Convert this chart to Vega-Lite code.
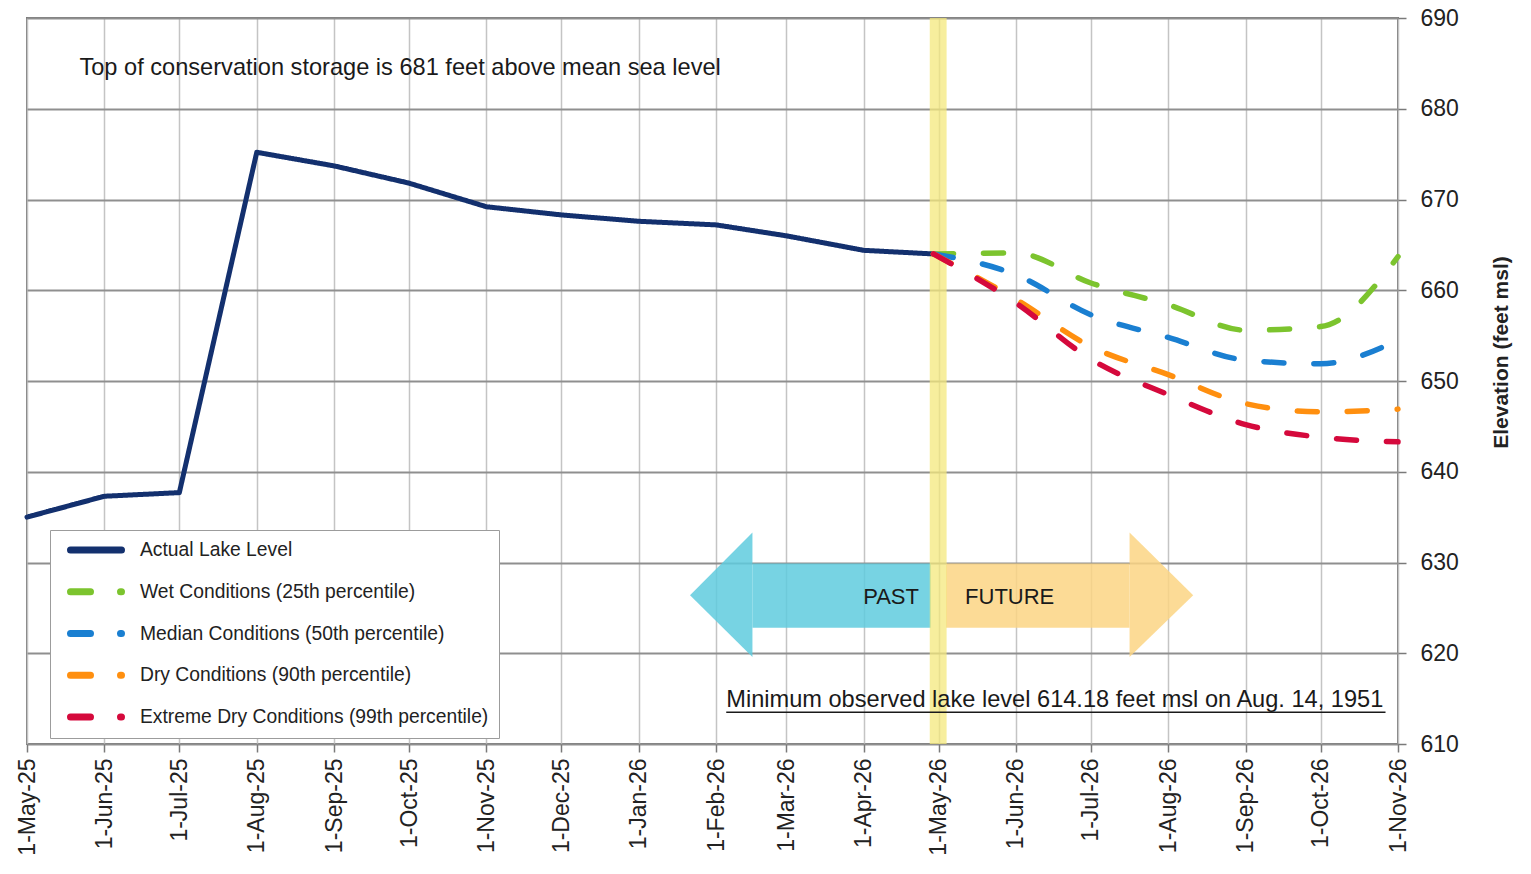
{
  "$schema": "https://vega.github.io/schema/vega-lite/v6.json",
  "width": 1371,
  "height": 726,
  "autosize": {"type": "none"},
  "padding": {"left": 27, "top": 18, "right": 133, "bottom": 130},
  "background": "white",
  "config": {
    "font": "Liberation Sans",
    "view": {"stroke": "#7a7a7a", "strokeWidth": 2},
    "axis": {"labelFont": "Liberation Sans", "titleFont": "Liberation Sans"}
  },
  "datasets": {
    "actual": [
      {"date": "2025-05-01", "level": 635.0, "series": "Actual Lake Level"},
      {"date": "2025-06-01", "level": 637.3, "series": "Actual Lake Level"},
      {"date": "2025-07-01", "level": 637.7, "series": "Actual Lake Level"},
      {"date": "2025-08-01", "level": 675.2, "series": "Actual Lake Level"},
      {"date": "2025-09-01", "level": 673.7, "series": "Actual Lake Level"},
      {"date": "2025-10-01", "level": 671.8, "series": "Actual Lake Level"},
      {"date": "2025-11-01", "level": 669.2, "series": "Actual Lake Level"},
      {"date": "2025-12-01", "level": 668.3, "series": "Actual Lake Level"},
      {"date": "2026-01-01", "level": 667.6, "series": "Actual Lake Level"},
      {"date": "2026-02-01", "level": 667.2, "series": "Actual Lake Level"},
      {"date": "2026-03-01", "level": 666.0, "series": "Actual Lake Level"},
      {"date": "2026-04-01", "level": 664.4, "series": "Actual Lake Level"},
      {"date": "2026-04-29", "level": 664.0, "series": "Actual Lake Level"}
    ],
    "forecast": [
      {"date": "2026-04-29", "level": 664.0, "series": "Wet Conditions (25th percentile)"},
      {"date": "2026-06-01", "level": 664.1, "series": "Wet Conditions (25th percentile)"},
      {"date": "2026-07-01", "level": 660.8, "series": "Wet Conditions (25th percentile)"},
      {"date": "2026-08-01", "level": 658.4, "series": "Wet Conditions (25th percentile)"},
      {"date": "2026-09-01", "level": 655.6, "series": "Wet Conditions (25th percentile)"},
      {"date": "2026-10-01", "level": 656.0, "series": "Wet Conditions (25th percentile)"},
      {"date": "2026-11-01", "level": 663.7, "series": "Wet Conditions (25th percentile)"},
      {"date": "2026-04-29", "level": 664.0, "series": "Median Conditions (50th percentile)"},
      {"date": "2026-06-01", "level": 661.7, "series": "Median Conditions (50th percentile)"},
      {"date": "2026-07-01", "level": 657.3, "series": "Median Conditions (50th percentile)"},
      {"date": "2026-08-01", "level": 654.8, "series": "Median Conditions (50th percentile)"},
      {"date": "2026-09-01", "level": 652.3, "series": "Median Conditions (50th percentile)"},
      {"date": "2026-10-01", "level": 651.9, "series": "Median Conditions (50th percentile)"},
      {"date": "2026-11-01", "level": 654.5, "series": "Median Conditions (50th percentile)"},
      {"date": "2026-04-29", "level": 664.0, "series": "Dry Conditions (90th percentile)"},
      {"date": "2026-06-01", "level": 659.0, "series": "Dry Conditions (90th percentile)"},
      {"date": "2026-07-01", "level": 653.8, "series": "Dry Conditions (90th percentile)"},
      {"date": "2026-08-01", "level": 650.7, "series": "Dry Conditions (90th percentile)"},
      {"date": "2026-09-01", "level": 647.5, "series": "Dry Conditions (90th percentile)"},
      {"date": "2026-10-01", "level": 646.6, "series": "Dry Conditions (90th percentile)"},
      {"date": "2026-11-01", "level": 646.9, "series": "Dry Conditions (90th percentile)"},
      {"date": "2026-04-29", "level": 664.0, "series": "Extreme Dry Conditions (99th percentile)"},
      {"date": "2026-06-01", "level": 658.6, "series": "Extreme Dry Conditions (99th percentile)"},
      {"date": "2026-07-01", "level": 652.4, "series": "Extreme Dry Conditions (99th percentile)"},
      {"date": "2026-08-01", "level": 648.5, "series": "Extreme Dry Conditions (99th percentile)"},
      {"date": "2026-09-01", "level": 645.2, "series": "Extreme Dry Conditions (99th percentile)"},
      {"date": "2026-10-01", "level": 643.8, "series": "Extreme Dry Conditions (99th percentile)"},
      {"date": "2026-11-01", "level": 643.3, "series": "Extreme Dry Conditions (99th percentile)"}
    ],
    "arrowBodies": [
      {"arrow": "past", "start": "2026-02-15T12:00:00Z", "end": "2026-04-28", "top": 629.9, "bottom": 622.8},
      {"arrow": "future", "start": "2026-05-04", "end": "2026-07-16T12:00:00Z", "top": 629.9, "bottom": 622.8}
    ],
    "arrowHeads": [
      {"arrow": "past", "date": "2026-01-21T12:00:00Z", "top": 626.4, "bottom": 626.4},
      {"arrow": "past", "date": "2026-02-15T12:00:00Z", "top": 633.3, "bottom": 619.6},
      {"arrow": "future", "date": "2026-07-16T12:00:00Z", "top": 633.3, "bottom": 619.6},
      {"arrow": "future", "date": "2026-08-11", "top": 626.4, "bottom": 626.4}
    ]
  },
  "layer": [
    {
      "data": {"name": "arrowBodies"},
      "mark": {"type": "rect", "opacity": 0.85},
      "encoding": {
        "x": {"field": "start", "type": "temporal", "title": null,
              "scale": {"type": "utc", "domain": [{"year": 2025, "month": 5, "date": 1, "utc": true}, {"year": 2026, "month": 11, "date": 1, "utc": true}]}},
        "x2": {"field": "end"},
        "y": {"field": "top", "type": "quantitative", "scale": {"domain": [610, 690], "nice": false, "zero": false}},
        "y2": {"field": "bottom"},
        "fill": {"field": "arrow", "type": "nominal", "legend": null,
                 "scale": {"domain": ["past", "future"], "range": ["#5fcbde", "#fcd584"]}}
      }
    },
    {
      "data": {"name": "arrowHeads"},
      "mark": {"type": "area", "opacity": 0.85},
      "encoding": {
        "x": {"field": "date", "type": "temporal", "title": null,
              "scale": {"type": "utc", "domain": [{"year": 2025, "month": 5, "date": 1, "utc": true}, {"year": 2026, "month": 11, "date": 1, "utc": true}]}},
        "y": {"field": "top", "type": "quantitative", "scale": {"domain": [610, 690], "nice": false, "zero": false}},
        "y2": {"field": "bottom"},
        "fill": {"field": "arrow", "type": "nominal", "legend": null,
                 "scale": {"domain": ["past", "future"], "range": ["#5fcbde", "#fcd584"]}}
      }
    },
    {
      "data": {"values": [{}]},
      "mark": {"type": "rect", "fill": "#f4e87c", "opacity": 0.75},
      "encoding": {
        "x": {"datum": {"year": 2026, "month": 4, "date": 27, "hours": 12, "utc": true}, "type": "temporal",
              "scale": {"type": "utc", "domain": [{"year": 2025, "month": 5, "date": 1, "utc": true}, {"year": 2026, "month": 11, "date": 1, "utc": true}]}},
        "x2": {"datum": {"year": 2026, "month": 5, "date": 4, "hours": 6, "utc": true}}
      }
    },
    {
      "data": {"values": [{}]},
      "mark": {"type": "text", "align": "center", "baseline": "middle", "fontSize": 22, "color": "#1a1a1a"},
      "encoding": {
        "x": {"datum": {"year": 2026, "month": 4, "date": 12, "utc": true}, "type": "temporal"},
        "y": {"datum": 626.2, "type": "quantitative"},
        "text": {"value": "PAST"}
      }
    },
    {
      "data": {"values": [{}]},
      "mark": {"type": "text", "align": "center", "baseline": "middle", "fontSize": 22, "color": "#1a1a1a"},
      "encoding": {
        "x": {"datum": {"year": 2026, "month": 5, "date": 29, "hours": 12, "utc": true}, "type": "temporal"},
        "y": {"datum": 626.2, "type": "quantitative"},
        "text": {"value": "FUTURE"}
      }
    },
    {
      "data": {"values": [{}]},
      "mark": {"type": "text", "align": "left", "baseline": "alphabetic", "fontSize": 23.6, "color": "#1a1a1a"},
      "encoding": {
        "x": {"datum": {"year": 2025, "month": 5, "date": 22, "utc": true}, "type": "temporal"},
        "y": {"datum": 683.7, "type": "quantitative"},
        "text": {"value": "Top of conservation storage is 681 feet above mean sea level"}
      }
    },
    {
      "data": {"values": [{}]},
      "mark": {"type": "text", "align": "left", "baseline": "alphabetic", "fontSize": 23.6, "color": "#1a1a1a"},
      "encoding": {
        "x": {"datum": {"year": 2026, "month": 2, "date": 5, "utc": true}, "type": "temporal"},
        "y": {"datum": 614.1, "type": "quantitative"},
        "text": {"value": "Minimum observed lake level 614.18 feet msl on Aug. 14, 1951"}
      }
    },
    {
      "data": {"values": [{}]},
      "mark": {"type": "rule", "color": "#1a1a1a", "strokeWidth": 1.6},
      "encoding": {
        "x": {"datum": {"year": 2026, "month": 2, "date": 5, "utc": true}, "type": "temporal"},
        "x2": {"datum": {"year": 2026, "month": 10, "date": 27, "utc": true}},
        "y": {"datum": 613.5, "type": "quantitative"}
      }
    },
    {
      "data": {"name": "actual"},
      "mark": {"type": "line", "strokeWidth": 5, "strokeCap": "round", "strokeJoin": "round"},
      "encoding": {
        "x": {"field": "date", "type": "temporal",
              "scale": {"type": "utc", "domain": [{"year": 2025, "month": 5, "date": 1, "utc": true}, {"year": 2026, "month": 11, "date": 1, "utc": true}]},
              "axis": {
                "title": null,
                "values": [
                  {"year": 2025, "month": 5, "date": 1, "utc": true}, {"year": 2025, "month": 6, "date": 1, "utc": true},
                  {"year": 2025, "month": 7, "date": 1, "utc": true}, {"year": 2025, "month": 8, "date": 1, "utc": true},
                  {"year": 2025, "month": 9, "date": 1, "utc": true}, {"year": 2025, "month": 10, "date": 1, "utc": true},
                  {"year": 2025, "month": 11, "date": 1, "utc": true}, {"year": 2025, "month": 12, "date": 1, "utc": true},
                  {"year": 2026, "month": 1, "date": 1, "utc": true}, {"year": 2026, "month": 2, "date": 1, "utc": true},
                  {"year": 2026, "month": 3, "date": 1, "utc": true}, {"year": 2026, "month": 4, "date": 1, "utc": true},
                  {"year": 2026, "month": 5, "date": 1, "utc": true}, {"year": 2026, "month": 6, "date": 1, "utc": true},
                  {"year": 2026, "month": 7, "date": 1, "utc": true}, {"year": 2026, "month": 8, "date": 1, "utc": true},
                  {"year": 2026, "month": 9, "date": 1, "utc": true}, {"year": 2026, "month": 10, "date": 1, "utc": true},
                  {"year": 2026, "month": 11, "date": 1, "utc": true}
                ],
                "format": "%-d-%b-%y",
                "labelAngle": 270,
                "labelFontSize": 23,
                "labelColor": "#222222",
                "labelPadding": 6,
                "labelFlush": false,
                "labelOverlap": false,
                "tickSize": 8,
                "tickColor": "#7a7a7a",
                "tickWidth": 1.5,
                "domain": false,
                "grid": true,
                "gridColor": "#c4c4c4",
                "gridWidth": 1.5
              }},
        "y": {"field": "level", "type": "quantitative",
              "scale": {"domain": [610, 690], "nice": false, "zero": false},
              "axis": {
                "orient": "right",
                "values": [610, 620, 630, 640, 650, 660, 670, 680, 690],
                "labelFontSize": 23,
                "labelColor": "#222222",
                "labelPadding": 14,
                "tickSize": 8,
                "tickColor": "#7a7a7a",
                "tickWidth": 1.5,
                "domain": false,
                "grid": true,
                "gridColor": "#8f8f8f",
                "gridWidth": 2,
                "title": "Elevation (feet msl)",
                "titleFontSize": 21,
                "titleFontWeight": "bold",
                "titleColor": "#222222",
                "titleAngle": 270,
                "titleBaseline": "top",
                "titlePadding": 32,
                "titleY": 334
              }},
        "color": {"field": "series", "type": "nominal",
                  "scale": {"domain": ["Actual Lake Level", "Wet Conditions (25th percentile)", "Median Conditions (50th percentile)", "Dry Conditions (90th percentile)", "Extreme Dry Conditions (99th percentile)"],
                            "range": ["#13306e", "#7cc42e", "#1a7fd1", "#ff8f0f", "#d5093c"]},
                  "legend": {"title": null, "orient": "none", "legendX": 23, "legendY": 512, "direction": "vertical",
                             "fillColor": "white", "strokeColor": "#9c9c9c", "padding": 10,
                             "symbolType": "stroke", "symbolSize": 2601, "symbolStrokeWidth": 7, "symbolOffset": 7,
                             "labelFontSize": 19.3, "labelFont": "Liberation Sans", "labelColor": "#222222", "labelLimit": 0, "labelOffset": 15,
                             "clipHeight": 20, "rowPadding": 20.75,
                             "encode": {"symbols": {"update": {"strokeCap": {"value": "round"}}}}}},
        "strokeDash": {"field": "series", "type": "nominal",
                       "scale": {"domain": ["Actual Lake Level", "Wet Conditions (25th percentile)", "Median Conditions (50th percentile)", "Dry Conditions (90th percentile)", "Extreme Dry Conditions (99th percentile)"],
                                 "range": [[1, 0], [20, 30], [20, 30], [20, 30], [20, 30]]},
                       "legend": {"title": null, "orient": "none", "legendX": 23, "legendY": 512, "direction": "vertical",
                             "fillColor": "white", "strokeColor": "#9c9c9c", "padding": 10,
                             "symbolType": "stroke", "symbolSize": 2601, "symbolStrokeWidth": 7, "symbolOffset": 7,
                             "labelFontSize": 19.3, "labelFont": "Liberation Sans", "labelColor": "#222222", "labelLimit": 0, "labelOffset": 15,
                             "clipHeight": 20, "rowPadding": 20.75,
                             "encode": {"symbols": {"update": {"strokeCap": {"value": "round"}}}}}}
      }
    },
    {
      "data": {"name": "forecast"},
      "mark": {"type": "line", "strokeWidth": 5.5, "strokeCap": "round", "strokeJoin": "round", "interpolate": "monotone"},
      "encoding": {
        "x": {"field": "date", "type": "temporal",
              "scale": {"type": "utc", "domain": [{"year": 2025, "month": 5, "date": 1, "utc": true}, {"year": 2026, "month": 11, "date": 1, "utc": true}]}},
        "y": {"field": "level", "type": "quantitative", "scale": {"domain": [610, 690], "nice": false, "zero": false}},
        "color": {"field": "series", "type": "nominal",
                  "scale": {"domain": ["Actual Lake Level", "Wet Conditions (25th percentile)", "Median Conditions (50th percentile)", "Dry Conditions (90th percentile)", "Extreme Dry Conditions (99th percentile)"],
                            "range": ["#13306e", "#7cc42e", "#1a7fd1", "#ff8f0f", "#d5093c"]}},
        "strokeDash": {"field": "series", "type": "nominal",
                       "scale": {"domain": ["Actual Lake Level", "Wet Conditions (25th percentile)", "Median Conditions (50th percentile)", "Dry Conditions (90th percentile)", "Extreme Dry Conditions (99th percentile)"],
                                 "range": [[1, 0], [20, 30], [20, 30], [20, 30], [20, 30]]}}
      }
    }
  ]
}
